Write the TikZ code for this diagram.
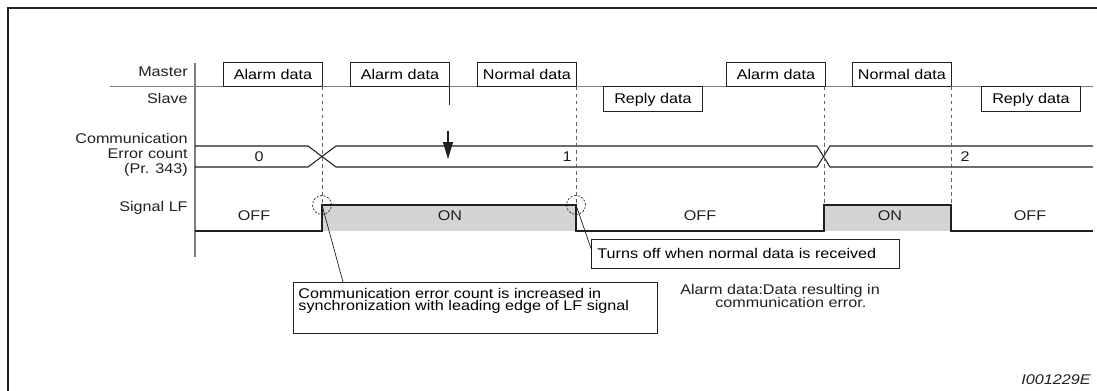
\documentclass[tikz,border=0pt]{standalone}
\usepackage{fontspec}
\setmainfont{Liberation Sans}[FakeStretch=1.15]
\usepackage{tikz}
\usetikzlibrary{arrows.meta, positioning, calc}
\definecolor{inkblack}{RGB}{35,31,32}
\definecolor{axisgray}{RGB}{125,125,125}
\definecolor{dashgray}{RGB}{100,100,100}
\definecolor{onfill}{RGB}{212,212,212}
\tikzset{
  lbl/.style={font=\fontsize{8}{8.6}\selectfont, text=inkblack, inner sep=0pt},
  databox/.style={rectangle, draw=inkblack, line width=0.5pt,
    minimum width=1.98cm, minimum height=0.48cm, inner sep=0pt,
    font=\fontsize{8}{8.6}\selectfont},
  mastbox/.style={databox, anchor=south west},
  slavebox/.style={databox, anchor=north west, minimum height=0.5cm},
  callbox/.style={rectangle, draw=inkblack, line width=0.5pt,
    font=\fontsize{8}{7}\selectfont, align=left, anchor=north west},
  ring/.style={circle, draw=inkblack, dash pattern=on 1.2pt off 0.9pt,
    line width=0.4pt, minimum size=0.38cm, inner sep=0pt},
  guide/.style={dashgray, dash pattern=on 2.2pt off 1.8pt, line width=0.5pt},
  axisline/.style={axisgray, line width=0.9pt},
  wave/.style={inkblack, line width=0.6pt},
  pointer/.style={inkblack, line width=0.4pt},
  hitarrow/.style={-{Triangle[length=0.34cm, width=0.2cm]}, inkblack, line width=0.6pt}
}

\begin{document}
\begin{tikzpicture}[x=0.02cm, y=-0.02cm]
  \useasboundingbox (0,0) rectangle (1097,391);
  \draw[inkblack, line width=1.1pt] (8,391) -- (8,8) -- (1097,8);

  % Row labels
  \node[lbl, anchor=east] (lmaster) at (188,72) {Master};
  \node[lbl, anchor=east] (lslave) at (188,98) {Slave};
  \node[lbl, anchor=east, align=right, font=\fontsize{8}{8.5}\selectfont] (lcount) at (188,155)
    {Communication\\Error count\\(Pr. 343)};
  \node[lbl, anchor=east] (lsignal) at (188,208) {Signal LF};

  % Axes
  \draw[axisline] (195,63) -- (195,257);
  \draw[axisline] (110,86.5) -- (1093,86.5);

  % Master / slave frames
  \node[mastbox] (alarm1) at (223,86.5) {Alarm data};
  \node[mastbox] (alarm2) at (350,86.5) {Alarm data};
  \node[mastbox] (normal1) at (477,86.5) {Normal data};
  \node[mastbox] (alarm3) at (726,86.5) {Alarm data};
  \node[mastbox] (normal2) at (852,86.5) {Normal data};
  \node[slavebox] (reply1) at (603,86.5) {Reply data};
  \node[slavebox] (reply2) at (981,86.5) {Reply data};

  % Error count
  \draw[wave] (195,146) -- (308,146) -- (336,167) -- (817,167) -- (830,146) -- (1093,146);
  \draw[wave] (195,167) -- (308,167) -- (336,146) -- (817,146) -- (830,167) -- (1093,167);
  \node[lbl] (cnt0) at (259,157) {0};
  \node[lbl] (cnt1) at (567,157) {1};
  \node[lbl] (cnt2) at (965,157) {2};

  % Signal LF
  \coordinate (rise1) at (322,205);
  \coordinate (fall1) at (576,205);
  \coordinate (rise2) at (824,205);
  \coordinate (fall2) at (951,205);
  \fill[onfill] (rise1) rectangle (576,231);
  \fill[onfill] (rise2) rectangle (951,231);
  \draw[wave] (195,231) -- (322,231) -- (rise1) -- (fall1) -- (576,231) -- (824,231)
    -- (rise2) -- (fall2) -- (951,231) -- (1093,231);
  \node[lbl] (off1) at (254,216) {OFF};
  \node[lbl] (on1) at (450,216) {ON};
  \node[lbl] (off2) at (700,216) {OFF};
  \node[lbl] (on2) at (890,216) {ON};
  \node[lbl] (off3) at (1030,216) {OFF};

  % Timing guides
  \draw[guide] (rise1 |- alarm1.south) -- (rise1);
  \draw[guide] (fall1 |- normal1.south) -- (fall1);
  \draw[guide] (rise2 |- alarm3.south) -- (rise2);
  \draw[guide] (fall2 |- normal2.south) -- (fall2);
  \draw[wave] (alarm2.south east) -- ++(0,19);
  \coordinate (hitstart) at (448,131);
  \coordinate (hit) at (448,159);
  \draw[hitarrow] (hitstart) -- (hit);

  % Callouts
  \node[ring] (ring1) at (rise1) {};
  \node[ring] (ring2) at (fall1) {};
  \node[callbox, inner xsep=0.1cm, inner ysep=0.12cm] (risenote) at (293,282)
    {\parbox[t][0.78cm][t]{7.08cm}{Communication error count is increased in\\
     synchronization with leading edge of LF signal}};
  \node[callbox, inner xsep=0.12cm, inner ysep=0pt, minimum height=0.58cm, text width=5.92cm]
    (fallnote) at (591,239) {Turns off when normal data is received};
  \draw[pointer] (rise1) -- ([xshift=1cm]risenote.north west);
  \draw[pointer] (fall1) -- ([yshift=0.11cm]fallnote.west);
  \node[lbl, anchor=north west, align=left, font=\fontsize{8}{7.6}\selectfont] (alarmnote) at (680,284)
    {Alarm data:Data resulting in\\\hspace*{0.7cm}communication error.};

  \node[lbl, anchor=east, font=\fontsize{8}{9}\selectfont\itshape] (figid) at (1091,380) {I001229E};
\end{tikzpicture}
\end{document}
